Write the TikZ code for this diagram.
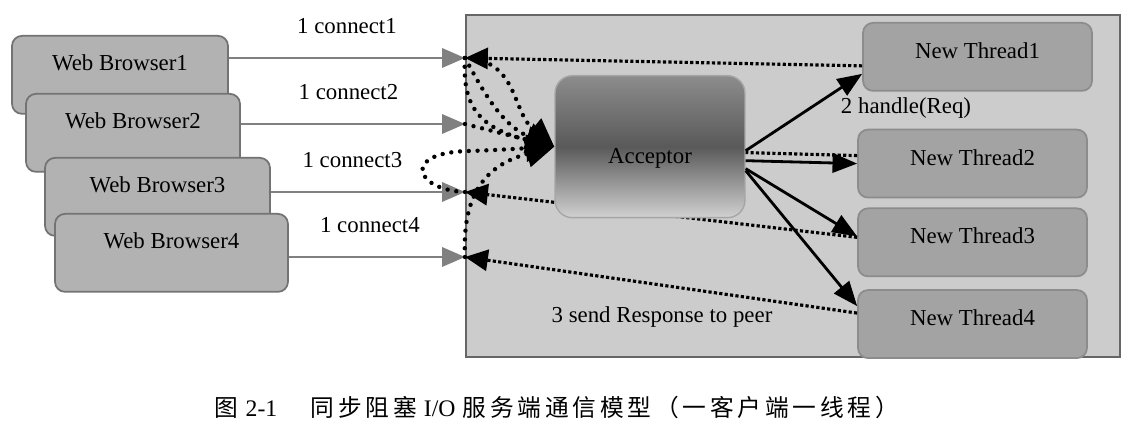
\documentclass[tikz,border=0pt]{standalone}
\usepackage{fontspec}
\setmainfont{Liberation Serif}
\newfontfamily\cjk[LetterSpace=16]{Noto Sans CJK SC}
\usetikzlibrary{positioning, arrows.meta}

\begin{document}
\begin{tikzpicture}
		[
		x=0.02cm, y=-0.02cm,
		font=\fontsize{13}{15}\selectfont,
		serverbox/.style ={rectangle, draw=black!60, fill=black!20, line width=1.2pt, inner sep=0pt, minimum width=13.08cm, minimum height=6.84cm},
		browser/.style ={rectangle, rounded corners=0.2cm, draw=black!55, fill=black!30, line width=1pt, anchor=north, inner sep=0pt, text height=0.7cm, text depth=0.86cm},
		thread/.style ={rectangle, rounded corners=0.2cm, draw=black!45, fill=black!36, line width=1pt, anchor=north, inner sep=0pt, minimum width=4.58cm, text height=0.71cm, text depth=0.65cm},
		acceptor/.style ={rectangle, rounded corners=0.35cm, draw=black!35, line width=0.8pt, anchor=north, inner sep=0pt, minimum width=3.8cm, text height=1.75cm, text depth=1.09cm, top color=black!45, bottom color=black!18, middle color=black!65},
		connect/.style ={draw=black!50, line width=1.2pt, -{Triangle[length=13pt, width=11pt]}},
		lbl/.style ={above=0.47cm, inner sep=0pt},
		dots/.style ={line width=1.8pt, dash pattern=on 1.8pt off 1.3pt},
		reply/.style ={dots, -{Triangle[length=13pt, width=12pt]}},
		accept/.style ={line width=2.5pt, line cap=round, dash pattern=on 0pt off 5pt, -{Triangle[length=16pt, width=15pt]}},
		handle/.style ={line width=1.6pt, -{Triangle[length=14pt, width=11pt]}}
		]
		\useasboundingbox (0,0) rectangle (1134,431);
		\node (server) [serverbox] at (793,186) {};
		% clients
		\node[minimum width=4.32cm] (b1) [browser] at (120,35) {Web Browser1};
		\node[minimum width=4.28cm] (b2) [browser] at (133,93) {Web Browser2};
		\node[minimum width=4.5cm, text depth=0.8cm] (b3) [browser] at (157.5,157) {Web Browser3};
		\node[minimum width=4.66cm, text depth=0.88cm] (b4) [browser] at (171.5,213) {Web Browser4};
		\coordinate (c1) at (465,58);
		\coordinate (c2) at (465,124);
		\coordinate (c3) at (465,192);
		\coordinate (c4) at (465,257);
		\draw[connect] (b1.east |- c1) -- node[lbl, pos=0.5] {1 connect1} (c1);
		\draw[connect] (b2.east |- c2) -- node[lbl, pos=0.48] {1 connect2} (c2);
		\draw[connect] (b3.east |- c3) -- node[lbl, pos=0.42] {1 connect3} (c3);
		\draw[connect] (b4.east |- c4) -- node[lbl, pos=0.46] {1 connect4} (c4);
		% threads
		\node[minimum width=4.62cm] (t1) [thread] at (977.5,22) {New Thread1};
		\node[below=0.74cm of t1, xshift=-0.1cm] (t2) [thread] {New Thread2};
		\node[below=0.18cm of t2] (t3) [thread] {New Thread3};
		\node[below=0.24cm of t3] (t4) [thread] {New Thread4};
		\draw[reply] ([yshift=-0.18cm]t1.west) -- (c1);
		\draw[dots] ([yshift=0.16cm]t2.west) -- (650,150);
		\draw[reply] ([yshift=0.1cm]t3.west) -- (c3);
		\draw[reply] ([yshift=0.22cm]t4.west) -- (c4);
		\node (acc) [acceptor] at (650,75) {Acceptor};
		\draw[accept] (c1) .. controls (518,60) and (512,112) .. (acc.west);
		\draw[accept] (c1) .. controls (480,85) and (500,125) .. (acc.west);
		\draw[accept] (c1) .. controls (462,105) and (478,128) .. (acc.west);
		\draw[accept] (c2) -- (acc.west);
		\draw[accept] (c3) .. controls (415,190) and (400,152) .. (470,151) .. controls (500,150) and (530,148) .. (acc.west);
		\draw[accept] (c4) .. controls (462,195) and (485,165) .. (acc.west);
		\draw[handle] ([yshift=-0.08cm]acc.east) -- ([yshift=-0.34cm]t1.west);
		\draw[handle] ([yshift=-0.28cm]acc.east) -- (t2.west);
		\draw[handle] ([yshift=-0.44cm]acc.east) -- ([yshift=0.12cm]t3.west);
		\draw[handle] ([yshift=-0.48cm]acc.east) -- ([yshift=0.36cm]t4.west);
		\node (req) at (906,108) {2 handle(Req)};
		\node (resp) at (662,317) {3 send Response to peer};
		\node (cap) at (557,407) {\fontsize{13.5}{15}\selectfont{\cjk 图}\hspace{0.3em}2-1\hspace{1.4em}{\cjk 同步阻塞}\hspace{0.3em}I/O\hspace{0.3em}{\cjk 服务端通信模型（一客户端一线程）}};
	\end{tikzpicture}
\end{document}
